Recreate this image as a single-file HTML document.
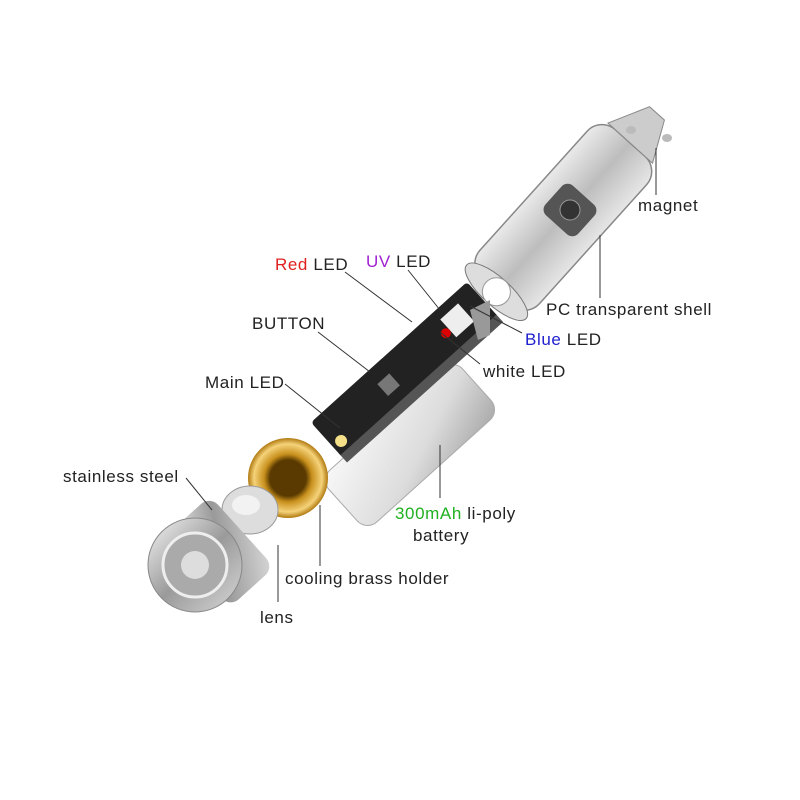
<!DOCTYPE html>
<html><head><meta charset="utf-8"><style>
html,body{margin:0;padding:0;background:#fff;}
svg{display:block;}
text{font-family:"Liberation Sans","DejaVu Sans",sans-serif;font-size:17px;letter-spacing:0.6px;fill:#222;}
</style></head><body>
<svg width="800" height="800" viewBox="0 0 800 800" xmlns="http://www.w3.org/2000/svg">
<defs>
<linearGradient id="steel" x1="0" y1="0" x2="1" y2="1">
<stop offset="0" stop-color="#f4f4f4"/><stop offset="0.5" stop-color="#9a9a9a"/><stop offset="1" stop-color="#d8d8d8"/></linearGradient>
<radialGradient id="brass" cx="0.5" cy="0.5" r="0.5">
<stop offset="0.45" stop-color="#5a3a00"/><stop offset="0.6" stop-color="#c8901c"/><stop offset="0.85" stop-color="#f5d27a"/><stop offset="1" stop-color="#b07a10"/></radialGradient>
<linearGradient id="bat" x1="0" y1="0" x2="1" y2="1">
<stop offset="0" stop-color="#f8f8f8"/><stop offset="0.6" stop-color="#dcdcdc"/><stop offset="1" stop-color="#a9a9a9"/></linearGradient>
<linearGradient id="shell" x1="0" y1="0" x2="0" y2="1">
<stop offset="0" stop-color="#eaeaea"/><stop offset="0.5" stop-color="#bdbdbd"/><stop offset="1" stop-color="#e6e6e6"/></linearGradient>
</defs>

<g transform="translate(570,210) rotate(-48)">
<rect x="-110" y="-40" width="200" height="80" rx="20" fill="url(#shell)" stroke="#888" stroke-width="1.5"/>
<path d="M90,-30 L130,-10 L130,10 L90,30 Z" fill="#ccc" stroke="#888"/>
<ellipse cx="-110" cy="0" rx="14" ry="40" fill="#ddd" stroke="#777"/>
<circle cx="-110" cy="0" r="14" fill="#fff" stroke="#999"/>
<rect x="-20" y="-22" width="40" height="44" rx="8" fill="#555"/>
<circle cx="0" cy="0" r="10" fill="#333" stroke="#999"/>
</g>
<ellipse cx="631" cy="130" rx="5" ry="4" fill="#bbb"/>
<ellipse cx="667" cy="138" rx="5" ry="4" fill="#bbb"/>

<g transform="translate(410,445) rotate(-42)">
<rect x="-90" y="-35" width="180" height="70" rx="14" fill="url(#bat)" stroke="#aaa"/>
</g>

<g transform="translate(405,370) rotate(-42)">
<rect x="-105" y="-24" width="210" height="48" rx="4" fill="#222"/>
<rect x="-105" y="20" width="210" height="10" fill="#555"/>
<rect x="60" y="-14" width="24" height="24" fill="#eee"/>
<circle cx="55" cy="0" r="5" fill="#d00"/>
<rect x="-30" y="-8" width="16" height="16" fill="#777"/>
<circle cx="-95" cy="10" r="6" fill="#f5e08a"/>
</g>
<path d="M470,310 L490,300 L490,335 L478,340 Z" fill="#999"/>

<circle cx="288" cy="478" r="40" fill="url(#brass)"/>
<ellipse cx="250" cy="510" rx="28" ry="24" fill="#ddd" stroke="#999"/>
<ellipse cx="246" cy="505" rx="14" ry="10" fill="#f2f2f2"/>
<g transform="translate(205,565) rotate(-42)">
<rect x="-10" y="-48" width="60" height="96" rx="12" fill="url(#steel)"/>
</g>
<circle cx="195" cy="565" r="47" fill="url(#steel)" stroke="#888"/>
<circle cx="195" cy="565" r="32" fill="#aaa" stroke="#eee" stroke-width="3"/>
<circle cx="195" cy="565" r="14" fill="#ddd"/>

<g stroke="#333" stroke-width="1" fill="none">
<line x1="656" y1="148" x2="656" y2="195"/>
<line x1="600" y1="235" x2="600" y2="298"/>
<line x1="345" y1="272" x2="412" y2="322"/>
<line x1="408" y1="270" x2="440" y2="310"/>
<line x1="318" y1="332" x2="370" y2="372"/>
<line x1="522" y1="333" x2="470" y2="306"/>
<line x1="480" y1="364" x2="440" y2="332"/>
<line x1="285" y1="384" x2="340" y2="428"/>
<line x1="186" y1="478" x2="212" y2="510"/>
<line x1="440" y1="445" x2="440" y2="498"/>
<line x1="320" y1="505" x2="320" y2="566"/>
<line x1="278" y1="545" x2="278" y2="602"/>
</g>

<text x="638" y="211">magnet</text>
<text x="546" y="315">PC transparent shell</text>
<text x="275" y="270"><tspan fill="#e02020">Red</tspan> LED</text>
<text x="366" y="267"><tspan fill="#a020d0">UV</tspan> LED</text>
<text x="252" y="329">BUTTON</text>
<text x="525" y="345"><tspan fill="#2020d0">Blue</tspan> LED</text>
<text x="483" y="377">white LED</text>
<text x="205" y="388">Main LED</text>
<text x="63" y="482">stainless steel</text>
<text x="395" y="519"><tspan fill="#20b020">300mAh</tspan> li-poly</text>
<text x="413" y="541">battery</text>
<text x="285" y="584">cooling brass holder</text>
<text x="260" y="623">lens</text>
</svg>
</body></html>
